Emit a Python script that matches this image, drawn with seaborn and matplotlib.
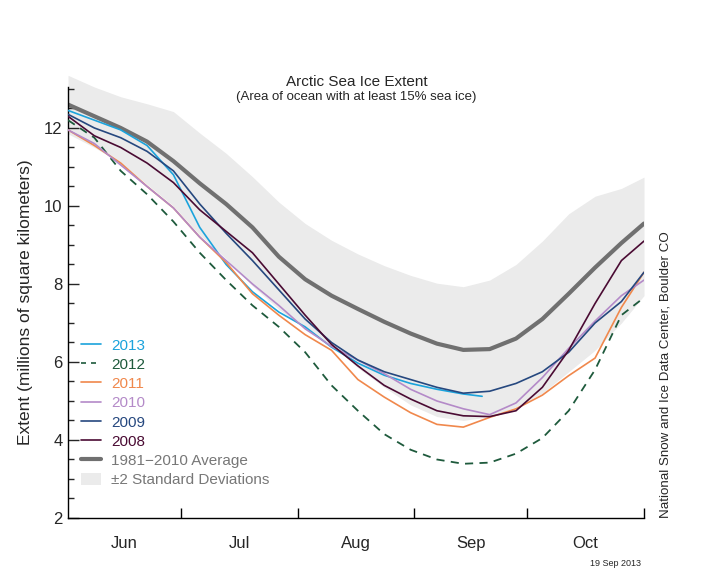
import numpy as np
import pandas as pd
import seaborn as sns
import matplotlib
matplotlib.use('Agg')
import matplotlib.pyplot as plt
from matplotlib.lines import Line2D
from matplotlib.patches import Patch

# days since 1 June
days = [0, 7, 14, 21, 28, 35, 42, 49, 56, 63, 70, 77, 84, 91, 98, 105, 112, 119, 126, 133, 140, 147, 153]
days_2013 = [0, 7, 14, 21, 28, 35, 42, 49, 56, 63, 70, 77, 84, 91, 98, 105, 110]

avg = [12.6, 12.3, 12.0, 11.65, 11.15, 10.58, 10.05, 9.45, 8.7, 8.12, 7.7, 7.36, 7.03, 6.73, 6.47, 6.31, 6.33, 6.6, 7.1, 7.75, 8.42, 9.05, 9.55]
sd_upper = [13.35, 13.05, 12.8, 12.62, 12.42, 11.87, 11.35, 10.75, 10.1, 9.55, 9.12, 8.77, 8.47, 8.22, 8.02, 7.93, 8.1, 8.5, 9.1, 9.8, 10.25, 10.45, 10.74]
sd_lower = [11.85, 11.5, 11.1, 10.55, 10.0, 9.25, 8.65, 7.95, 7.35, 6.85, 6.45, 5.85, 5.35, 4.9, 4.6, 4.5, 4.6, 4.85, 5.2, 5.75, 6.3, 7.0, 7.7]

y2013 = [12.45, 12.2, 11.95, 11.55, 10.8, 9.45, 8.5, 7.8, 7.28, 6.9, 6.38, 5.97, 5.66, 5.45, 5.3, 5.18, 5.12]
y2012 = [12.2, 11.75, 10.9, 10.3, 9.6, 8.8, 8.1, 7.45, 6.9, 6.25, 5.4, 4.75, 4.15, 3.75, 3.5, 3.39, 3.42, 3.65, 4.05, 4.75, 5.8, 7.2, 7.65]
y2011 = [11.95, 11.55, 11.1, 10.5, 9.95, 9.2, 8.55, 7.75, 7.2, 6.7, 6.3, 5.55, 5.1, 4.7, 4.4, 4.33, 4.58, 4.8, 5.15, 5.65, 6.1, 7.4, 8.3]
y2010 = [11.95, 11.6, 11.05, 10.5, 9.95, 9.2, 8.6, 8.0, 7.45, 6.85, 6.4, 6.05, 5.7, 5.3, 5.0, 4.8, 4.65, 4.95, 5.6, 6.35, 7.05, 7.7, 8.1]
y2009 = [12.35, 12.0, 11.75, 11.4, 10.9, 10.05, 9.3, 8.6, 7.85, 7.1, 6.5, 6.05, 5.75, 5.55, 5.35, 5.2, 5.25, 5.45, 5.75, 6.25, 7.0, 7.55, 8.3]
y2008 = [12.3, 11.8, 11.5, 11.1, 10.6, 9.9, 9.35, 8.8, 8.0, 7.2, 6.45, 5.9, 5.4, 5.05, 4.75, 4.62, 4.6, 4.75, 5.35, 6.3, 7.5, 8.6, 9.1]

months = ['Jun', 'Jul', 'Aug', 'Sep', 'Oct']
month_edges = [30, 61, 92, 122, 153]
month_mids = [15, 45.5, 76.5, 107, 137.5]

years = ['2013', '2012', '2011', '2010', '2009', '2008']
colors = ['#1ba3dc', '#1e5a3c', '#f0884c', '#b48ac8', '#26487f', '#4a0b33']
avg_color = '#707070'
band_color = '#ebebeb'

sns.set_style('ticks')
plt.rcParams['font.family'] = ['Liberation Sans', 'DejaVu Sans']

fig = plt.figure(figsize=(7.2, 5.76), dpi=100)
ax = fig.add_axes([68 / 720, 58 / 576, 576 / 720, 431 / 576])

ax.fill_between(days, sd_lower, sd_upper, color=band_color, lw=0, clip_on=False, zorder=0)
sns.lineplot(x=days, y=avg, ax=ax, color=avg_color, lw=3, zorder=2)

series = [(days_2013, y2013), (days, y2012), (days, y2011), (days, y2010), (days, y2009), (days, y2008)]
for (xs, ys), yr, c in zip(series, years, colors):
    ls = (0, (4.5, 3.5)) if yr == '2012' else '-'
    sns.lineplot(x=xs, y=ys, ax=ax, color=c, lw=1.3 if yr == '2012' else 1.2, linestyle=ls, zorder=3)

ax.set_xlim(0, 153)
ax.set_ylim(2, 13.05)
ax.set_xticks(month_edges)
ax.set_xticklabels([''] * len(month_edges))
ax.set_xticks(month_mids, minor=True)
ax.set_xticklabels(months, minor=True)
ax.tick_params(axis='x', which='major', direction='in', length=7, width=1, color='black')
ax.tick_params(axis='x', which='minor', length=0, pad=13, labelsize=12)
ax.set_yticks([2, 4, 6, 8, 10, 12])
ax.set_yticks(np.arange(2.5, 13.01, 0.5), minor=True)
ax.tick_params(axis='y', which='major', direction='in', length=8, width=1, labelsize=12, pad=4)
ax.tick_params(axis='y', which='minor', direction='in', length=4.5, width=1)
sns.despine(ax=ax)
for s in ['left', 'bottom']:
    ax.spines[s].set_color('black')
    ax.spines[s].set_linewidth(1)
ax.set_ylabel('Extent (millions of square kilometers)', fontsize=12.5, labelpad=8)

handles = [Line2D([], [], color=c, lw=1.2, linestyle=(0, (3, 3)) if yr == '2012' else '-')
           for yr, c in zip(years, colors)]
handles.append(Line2D([], [], color=avg_color, lw=3))
handles.append(Patch(facecolor=band_color, edgecolor='none'))
labels = years + ['1981\u22122010 Average', '\u00b12 Standard Deviations']
ax.legend(handles, labels, loc='upper left', bbox_to_anchor=(0.022, 0.417), frameon=False,
          fontsize=11, labelspacing=0.3, handlelength=1.3, handleheight=0.9, handletextpad=0.7,
          borderpad=0, borderaxespad=0,
          labelcolor=colors + ['#777777', '#777777'])

fig.text(0.495, 1 - 82 / 576, 'Arctic Sea Ice Extent', ha='center', va='center', fontsize=11)
fig.text(0.495, 1 - 97 / 576, '(Area of ocean with at least 15% sea ice)', ha='center', va='center', fontsize=9.5)
fig.text(665 / 720, 1 - 518 / 576, 'National Snow and Ice Data Center, Boulder CO', rotation=90,
         ha='center', va='bottom', fontsize=9.6)
fig.text(641 / 720, 1 - 563 / 576, '19 Sep 2013', ha='right', va='center', fontsize=6.5)

fig.savefig('out.png', dpi=100, facecolor='white')
